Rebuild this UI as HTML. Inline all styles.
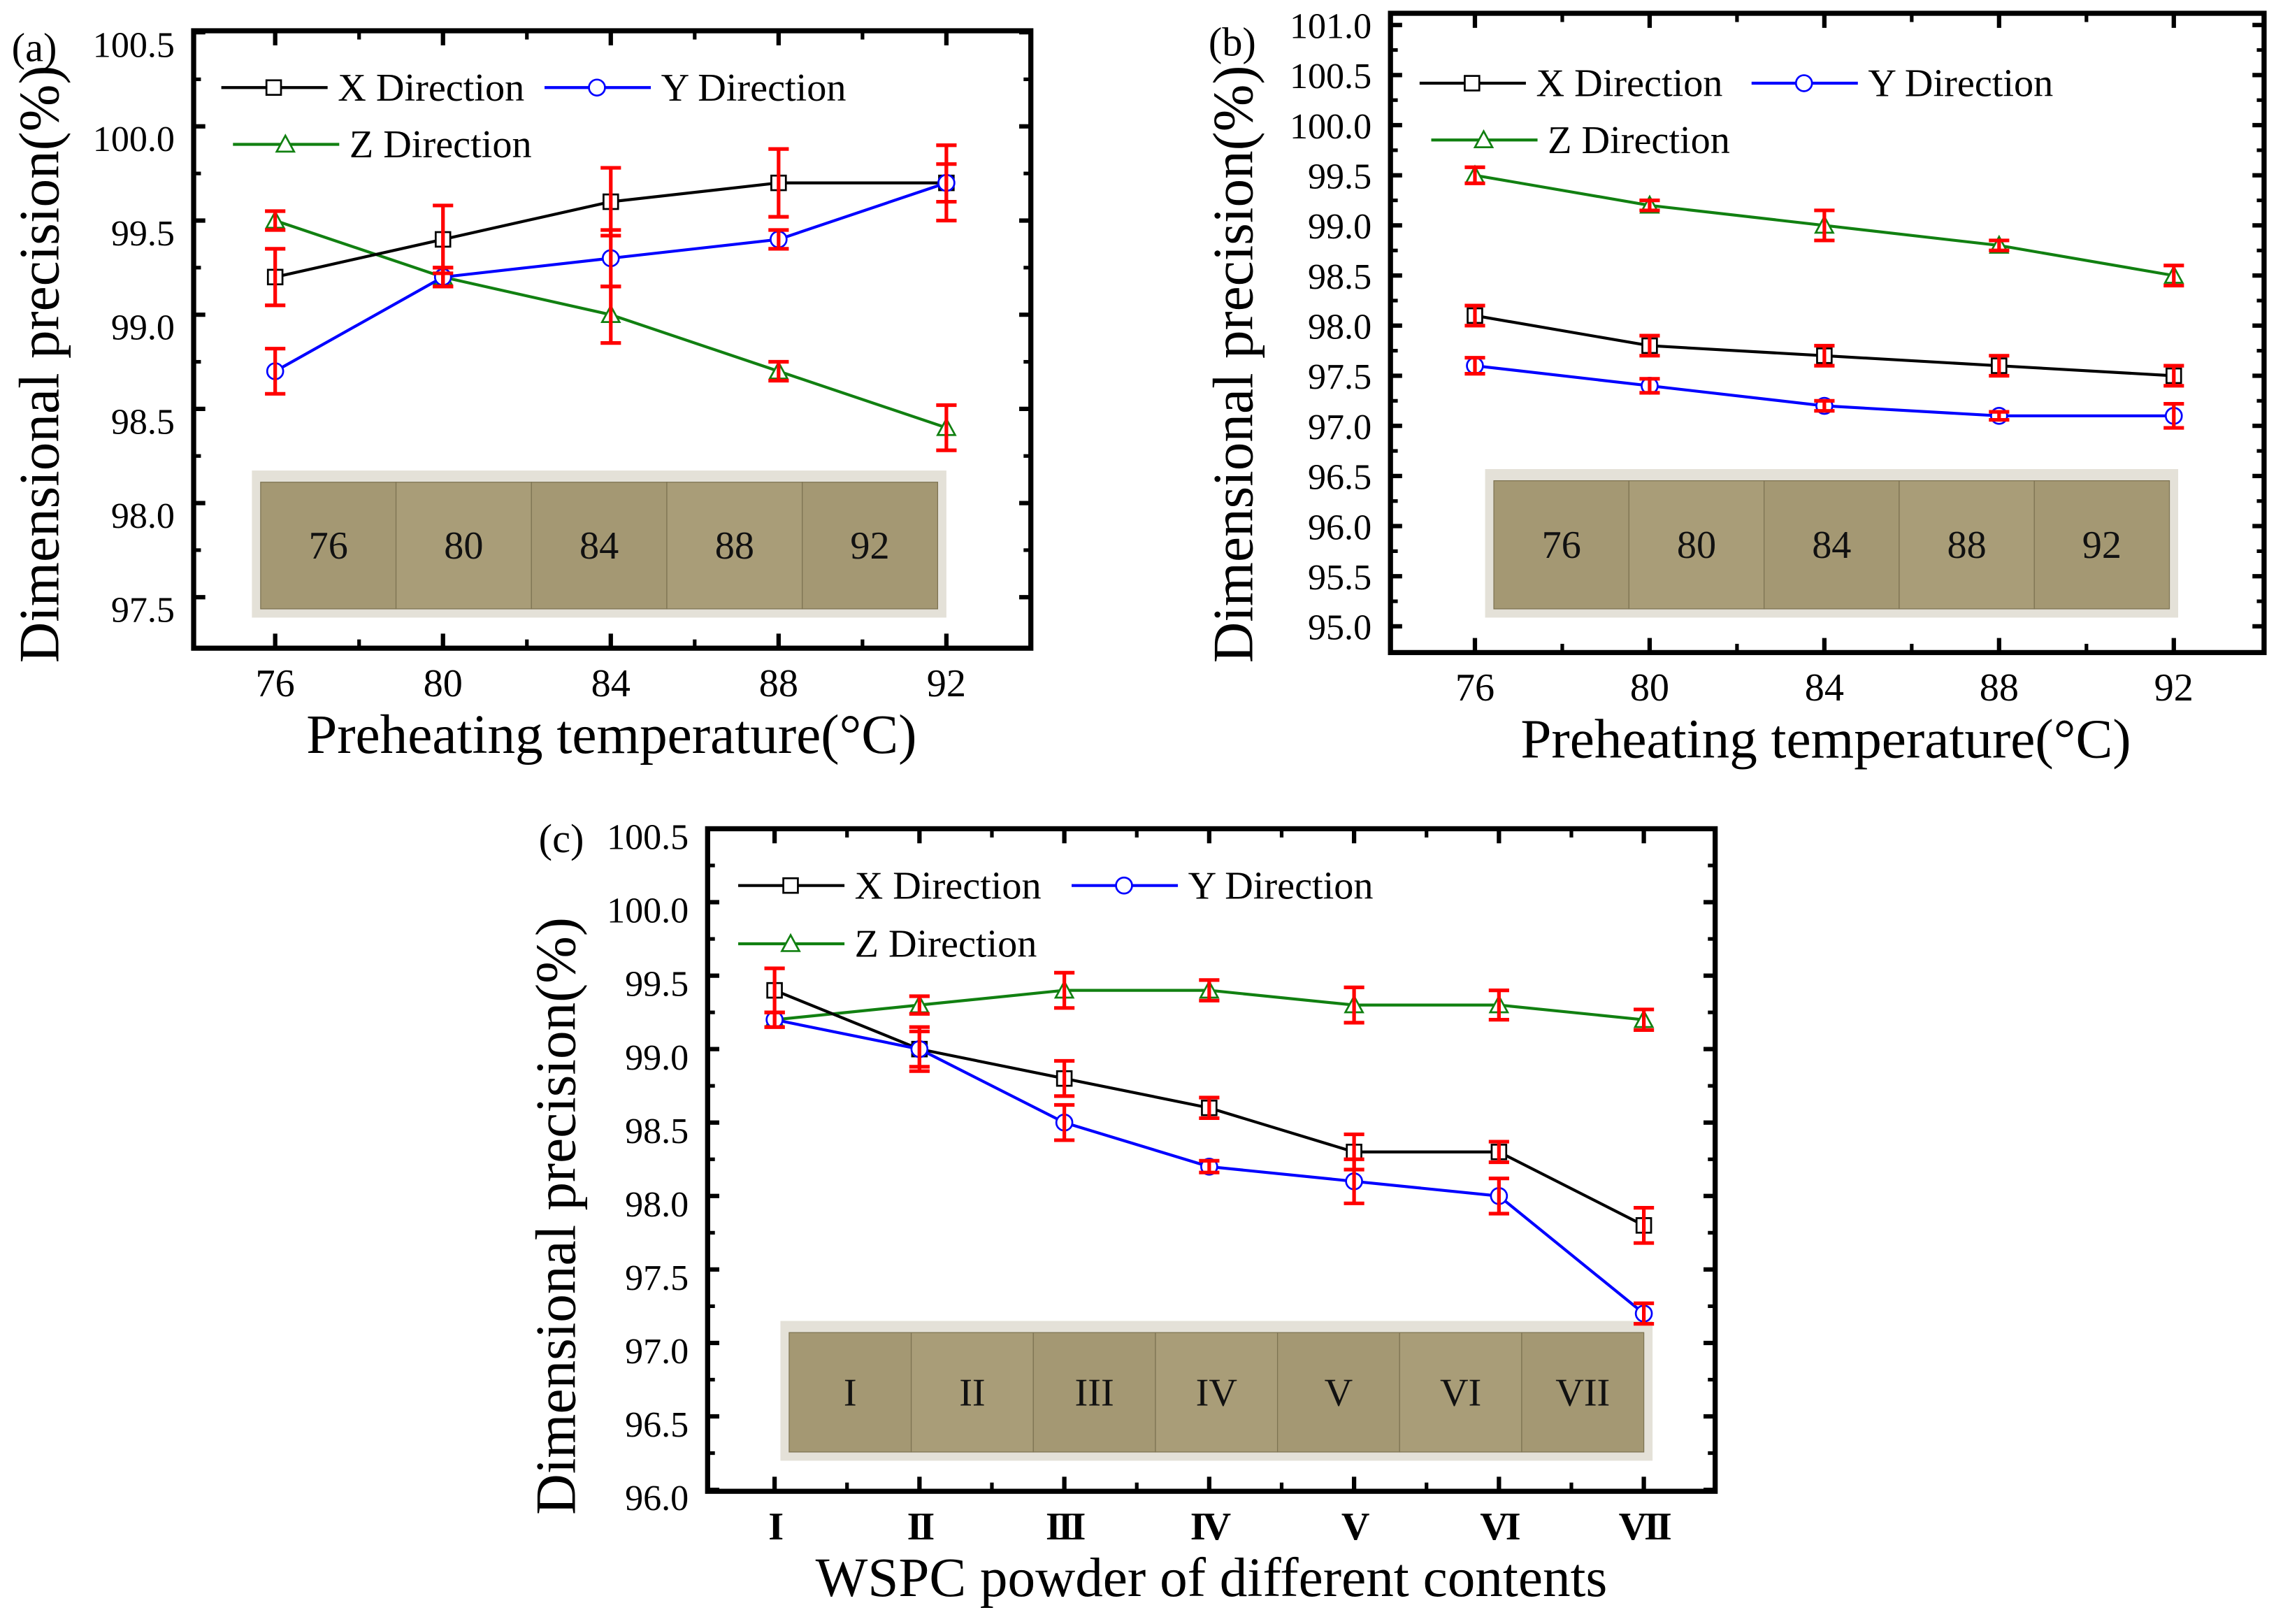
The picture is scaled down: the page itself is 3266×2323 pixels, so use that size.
<!DOCTYPE html>
<html><head><meta charset="utf-8"><style>
html,body{margin:0;padding:0;background:#fff}
svg{display:block}
text{font-family:"Liberation Serif",serif}
</style></head><body>
<svg id="fig" width="3266" height="2323" viewBox="0 0 1568 1115" xmlns="http://www.w3.org/2000/svg"></svg>
<script>
// Panel (a)
const aCats=["76","80","84","88","92"];
const aX=[99.2,99.4,99.6,99.7,99.7], aXe=[0.15,0.18,0.18,0.18,0.2];
const aY=[98.7,99.2,99.3,99.4,99.7], aYe=[0.12,0.05,0.15,0.05,0.1];
const aZ=[99.5,99.2,99.0,98.7,98.4], aZe=[0.05,0.05,0.15,0.05,0.12];
const aTicks=[97.5,98.0,98.5,99.0,99.5,100.0,100.5];
// Panel (b)
const bCats=["76","80","84","88","92"];
const bX=[98.1,97.8,97.7,97.6,97.5], bXe=[0.1,0.1,0.1,0.1,0.1];
const bY=[97.6,97.4,97.2,97.1,97.1], bYe=[0.08,0.07,0.05,0.04,0.12];
const bZ=[99.5,99.2,99.0,98.8,98.5], bZe=[0.08,0.05,0.15,0.05,0.1];
const bTicks=[95.0,95.5,96.0,96.5,97.0,97.5,98.0,98.5,99.0,99.5,100.0,100.5,101.0];
// Panel (c)
const cCats=["I","II","III","IV","V","VI","VII"];
const cPhoto=["I","II","III","IV","V","VI","VII"];
const cX=[99.4,99.0,98.8,98.6,98.3,98.3,97.8], cXe=[0.15,0.12,0.12,0.07,0.12,0.07,0.12];
const cY=[99.2,99.0,98.5,98.2,98.1,98.0,97.2], cYe=[0.05,0.15,0.12,0.04,0.15,0.12,0.07];
const cZ=[99.2,99.3,99.4,99.4,99.3,99.3,99.2], cZe=[0.05,0.06,0.12,0.07,0.12,0.1,0.07];
const cTicks=[96.0,96.5,97.0,97.5,98.0,98.5,99.0,99.5,100.0,100.5];

const NS="http://www.w3.org/2000/svg";
const svg=document.getElementById('fig');
function mk(tag,attrs,parent,txt){const e=document.createElementNS(NS,tag);for(const k in attrs)e.setAttribute(k,attrs[k]);if(txt!==undefined)e.textContent=txt;(parent||svg).appendChild(e);return e;}

function marker(g,type,x,y,color){
  let m;
  if(type==='sq') m=mk('rect',{x:x-5,y:y-5,width:10,height:10,fill:'#fff',stroke:color,'stroke-width':1.3},g);
  else if(type==='ci') m=mk('circle',{cx:x,cy:y,r:5.5,fill:'#fff',stroke:color,'stroke-width':1.3},g);
  else m=mk('polygon',{points:`${x},${y-6} ${x-6},${y+5} ${x+6},${y+5}`,fill:'#fff',stroke:color,'stroke-width':1.3},g);
  return m;
}

function panel(o){
  const g=mk('g',{});
  
  
  const n=o.cats.length;
  const xs=i=>o.x0+(o.x1-o.x0)*i/(n-1);
  const ys=v=>o.yTop+(o.vTop-v)*(o.yBot-o.yTop)/(o.vTop-o.vBot);
  // photo
  const ph=mk('g',{},g);
  
  
  mk('rect',{x:o.photo[0],y:o.photo[1],width:o.photo[2]-o.photo[0],height:o.photo[3]-o.photo[1],fill:'#e4e1d8'},ph);
  const pn=o.plabels.length, pw=(o.photo[2]-o.photo[0]-12)/pn;
  o.plabels.forEach((l,i)=>{
    const bx=o.photo[0]+6+i*pw;
    mk('rect',{x:bx,y:o.photo[1]+8,width:pw,height:o.photo[3]-o.photo[1]-14,fill:i%2?'#a99d78':'#a49873',stroke:'#7d7352','stroke-width':0.6},ph);
    mk('text',{x:bx+pw/2,y:(o.photo[1]+o.photo[3])/2+10,'text-anchor':'middle','font-size':27,fill:'#111'},ph,l);
  });
  // frame
  const fr=mk('rect',{x:o.fl,y:o.ft,width:o.fr-o.fl,height:o.fb-o.ft,fill:'none',stroke:'#000','stroke-width':3.5},g);
  
  
  // y ticks
  o.ticks.forEach((t,i)=>{
    const y=ys(t);
    mk('line',{x1:o.fl,x2:o.fl+8,y1:y,y2:y,stroke:'#000','stroke-width':3},g);
    mk('line',{x1:o.fr,x2:o.fr-8,y1:y,y2:y,stroke:'#000','stroke-width':3},g);
    const lab=mk('text',{x:o.fl-13,y:y+o.lOff,'text-anchor':'end','font-size':25},g,t.toFixed(1));
    
    
    if(i<o.ticks.length-1){const ym=ys(t+0.25);
      mk('line',{x1:o.fl,x2:o.fl+5,y1:ym,y2:ym,stroke:'#000','stroke-width':2.5},g);
      mk('line',{x1:o.fr,x2:o.fr-5,y1:ym,y2:ym,stroke:'#000','stroke-width':2.5},g);}
  });
  // x ticks
  o.cats.forEach((c,i)=>{
    const x=xs(i);
    mk('line',{x1:x,x2:x,y1:o.fb,y2:o.fb-10,stroke:'#000','stroke-width':3},g);
    mk('line',{x1:x,x2:x,y1:o.ft,y2:o.ft+10,stroke:'#000','stroke-width':3},g);
    if(i<n-1){const xm=(x+xs(i+1))/2;
      mk('line',{x1:xm,x2:xm,y1:o.fb,y2:o.fb-6,stroke:'#000','stroke-width':2.5},g);
      mk('line',{x1:xm,x2:xm,y1:o.ft,y2:o.ft+6,stroke:'#000','stroke-width':2.5},g);}
    const lab=mk('text',{x:x,y:o.fb+33,'text-anchor':'middle','font-size':27,'font-weight':o.xBold?'bold':'normal','letter-spacing':o.xBold?-2:0},g,c);
    
    
  });
  // series
  const series=[{v:o.Z,e:o.Ze,c:'#118011',m:'tr',n:'z-direction'},{v:o.X,e:o.Xe,c:'#000',m:'sq',n:'x-direction'},{v:o.Y,e:o.Ye,c:'#0000ff',m:'ci',n:'y-direction'}];
  series.forEach(s=>{
    const sg=mk('g',{},g);
    
    
    mk('polyline',{points:s.v.map((v,i)=>xs(i)+','+ys(v)).join(' '),fill:'none',stroke:s.c,'stroke-width':2},sg);
    s.v.forEach((v,i)=>{const mm=marker(sg,s.m,xs(i),ys(v),s.c);
      
      });
  });
  series.forEach(s=>{
    s.v.forEach((v,i)=>{
      const x=xs(i),y1=ys(v+s.e[i]),y2=ys(v-s.e[i]);
      const eb=mk('path',{d:`M${x},${y1}V${y2}M${x-7},${y1}H${x+7}M${x-7},${y2}H${x+7}`,stroke:'#ff0000','stroke-width':2.5,fill:'none'},g);
      
      
    });
  });
  // legend
  const L=o.leg;
  [[L[0],'#000','sq','X Direction'],[L[1],'#0000ff','ci','Y Direction'],[L[2],'#118011','tr','Z Direction']].forEach(([p,c,m,t])=>{
    const lg=mk('g',{},g);
    
    
    mk('line',{x1:p[0],x2:p[0]+73,y1:p[1],y2:p[1],stroke:c,'stroke-width':2},lg);
    marker(lg,m,p[0]+36,p[1],c);
    mk('text',{x:p[0]+80,y:p[1]+9,'font-size':27},lg,t);
  });
  // titles
  const xt=mk('text',{x:o.xtc,y:o.fb+72,'text-anchor':'middle','font-size':38},g,o.xtitle);
  
  
  const yt=mk('text',{x:0,y:0,'text-anchor':'middle','font-size':39,transform:`translate(${o.ytx},${o.ytc}) rotate(-90)`},g,'Dimensional precision(%)');
  
  
  const pl=mk('text',{x:o.plab[0],y:o.plab[1],'font-size':28},g,o.label);
  
  
}

panel({name:'panel-a',cats:aCats,plabels:aCats,X:aX,Xe:aXe,Y:aY,Ye:aYe,Z:aZ,Ze:aZe,ticks:aTicks,
  fl:133,fr:708,ft:21,fb:445,x0:189,x1:650,yTop:22,vTop:100.5,yBot:410,vBot:97.5,lOff:17,
  photo:[173,323,650,424],leg:[[152,60],[374,60],[160,99]],xtitle:'Preheating temperature(°C)',xtc:420,ytx:40,ytc:250,plab:[8,42],label:'(a)'});
panel({name:'panel-b',cats:bCats,plabels:bCats,X:bX,Xe:bXe,Y:bY,Ye:bYe,Z:bZ,Ze:bZe,ticks:bTicks,
  fl:955,fr:1555,ft:9,fb:448,x0:1013,x1:1493,yTop:17,vTop:101.0,yBot:430,vBot:95.0,lOff:9,
  photo:[1020,322,1496,424],leg:[[975,57],[1203,57],[983,96]],xtitle:'Preheating temperature(°C)',xtc:1254,ytx:860,ytc:250,plab:[830,38],label:'(b)'});
panel({name:'panel-c',cats:cCats,plabels:cPhoto,X:cX,Xe:cXe,Y:cY,Ye:cYe,Z:cZ,Ze:cZe,ticks:cTicks,xBold:true,
  fl:486,fr:1178,ft:569,fb:1024,x0:532,x1:1129,yTop:569,vTop:100.5,yBot:1023,vBot:96.0,lOff:14,
  photo:[536,907,1135,1003],leg:[[507,608],[736,608],[507,648]],xtitle:'WSPC powder of different contents',xtc:832,ytx:395,ytc:835,plab:[370,585],label:'(c)'});
</script>
</body></html>
